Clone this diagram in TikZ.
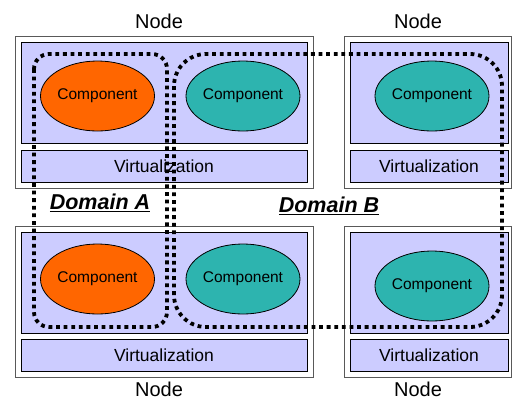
\documentclass[tikz,border=0pt]{standalone}
\usepackage{fontspec}
\setmainfont{Liberation Sans}
\usetikzlibrary{shapes.geometric}
\definecolor{vmpurple}{HTML}{CCCCFF}
\definecolor{comporange}{HTML}{FF6600}
\definecolor{compteal}{HTML}{2DB4AF}

\begin{document}
\begin{tikzpicture}[x=1pt, y=-1pt, line width=0.8pt,
  hostbox/.style={draw=black!65, fill=white},
  vmbox/.style={draw=black, fill=vmpurple},
  comp/.style={ellipse, draw=black, minimum width=114pt, minimum height=70pt, inner sep=0pt, font=\fontsize{15.5}{18}\selectfont},
  virtlabel/.style={font=\fontsize{17.5}{20}\selectfont},
  hostlabel/.style={font=\fontsize{20}{24}\selectfont},
  domainlabel/.style={font=\fontsize{21.5}{25}\selectfont\bfseries\itshape},
  domainline/.style={line width=3.8pt, dash pattern=on 3.8pt off 3.8pt}]
\useasboundingbox (0,0) rectangle (512,400);

% 四个节点的外框
\draw[hostbox] (15,36) rectangle (313,188);
\draw[hostbox] (344,36) rectangle (511,188);
\draw[hostbox] (15,226) rectangle (313,377);
\draw[hostbox] (344,226) rectangle (511,377);

% 组件区和虚拟化层
\draw[vmbox] (21,42) rectangle (307,143);
\draw[vmbox] (350,42) rectangle (508,143);
\draw[vmbox] (21,232) rectangle (307,333);
\draw[vmbox] (350,232) rectangle (508,333);
\draw[vmbox] (21,150) rectangle (307,182) node[midway, virtlabel] (virtTL) {Virtualization};
\draw[vmbox] (350,150) rectangle (508,182) node[midway, virtlabel] (virtTR) {Virtualization};
\draw[vmbox] (21,339) rectangle (307,371) node[midway, virtlabel] (virtBL) {Virtualization};
\draw[vmbox] (350,339) rectangle (508,371) node[midway, virtlabel] (virtBR) {Virtualization};

% 组件
\node[comp, fill=comporange] (compTL) at (97.5,96) {Component};
\node[comp, fill=compteal] (compTM) at (243,96) {Component};
\node[comp, fill=compteal] (compTR) at (432,96) {Component};
\node[comp, fill=comporange] (compBL) at (97.5,279) {Component};
\node[comp, fill=compteal] (compBM) at (243,279) {Component};
\node[comp, fill=compteal] (compBR) at (432,286) {Component};

% 节点标签
\node[hostlabel] (hostTL) at (159,21) {Node};
\node[hostlabel] (hostTR) at (418,21) {Node};
\node[hostlabel] (hostBL) at (159,389) {Node};
\node[hostlabel] (hostBR) at (418,389) {Node};

% 域
\draw[domainline, rounded corners=15pt] (34,54) rectangle (167,327);
\draw[domainline, rounded corners=32pt] (174,54) rectangle (502,327);
\node[domainlabel] (domA) at (100,203) {\underline{Domain A}};
\node[domainlabel] (domB) at (329,206) {\underline{Domain B}};
\end{tikzpicture}
\end{document}
